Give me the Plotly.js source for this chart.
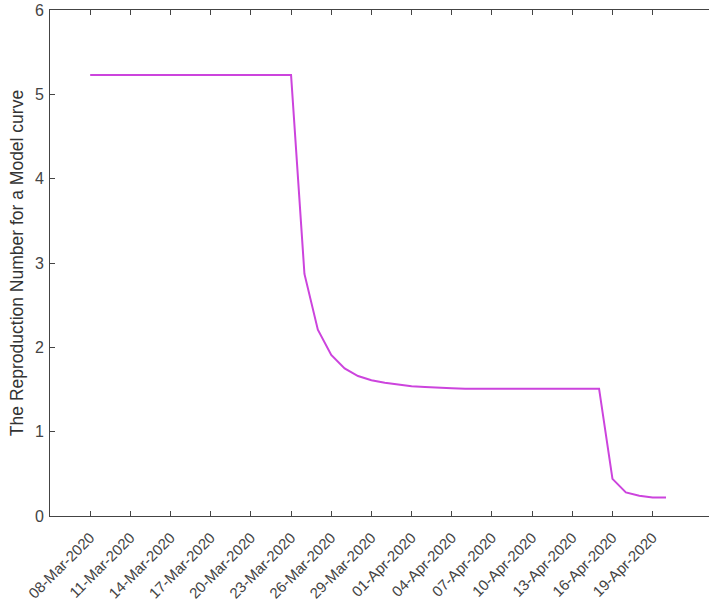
<!DOCTYPE html>
<html>
<head>
<meta charset="utf-8">
<script src="https://cdn.plot.ly/plotly-3.0.1.min.js"></script>
<style>html,body{margin:0;padding:0;background:#fff;}</style>
</head>
<body>
<div id="chart" style="width:709px;height:609px;"></div>
<script>
const dates = [
  '2020-03-08','2020-03-09','2020-03-10','2020-03-11','2020-03-12','2020-03-13','2020-03-14','2020-03-15',
  '2020-03-16','2020-03-17','2020-03-18','2020-03-19','2020-03-20','2020-03-21','2020-03-22','2020-03-23',
  '2020-03-24','2020-03-25','2020-03-26','2020-03-27','2020-03-28','2020-03-29','2020-03-30','2020-03-31',
  '2020-04-01','2020-04-02','2020-04-03','2020-04-04','2020-04-05','2020-04-06','2020-04-07','2020-04-08',
  '2020-04-09','2020-04-10','2020-04-11','2020-04-12','2020-04-13','2020-04-14','2020-04-15','2020-04-16',
  '2020-04-17','2020-04-18','2020-04-19','2020-04-20'
];
const reproNumber = [
  5.23,5.23,5.23,5.23,5.23,5.23,5.23,5.23,
  5.23,5.23,5.23,5.23,5.23,5.23,5.23,5.23,
  2.87,2.21,1.91,1.75,1.66,1.61,1.58,1.56,
  1.54,1.53,1.52,1.515,1.51,1.51,1.51,1.51,
  1.51,1.51,1.51,1.51,1.51,1.51,1.51,0.44,
  0.28,0.24,0.22,0.22
];
const tickDates = ['2020-03-08','2020-03-11','2020-03-14','2020-03-17','2020-03-20','2020-03-23','2020-03-26',
  '2020-03-29','2020-04-01','2020-04-04','2020-04-07','2020-04-10','2020-04-13','2020-04-16','2020-04-19'];
const tickLabels = ['08-Mar-2020','11-Mar-2020','14-Mar-2020','17-Mar-2020','20-Mar-2020','23-Mar-2020','26-Mar-2020',
  '29-Mar-2020','01-Apr-2020','04-Apr-2020','07-Apr-2020','10-Apr-2020','13-Apr-2020','16-Apr-2020','19-Apr-2020'];
const yTicks = [0,1,2,3,4,5,6];

const axisColor = '#444444';
const fontFam = 'Liberation Sans, Arial, sans-serif';

Plotly.newPlot('chart', [{
  x: dates,
  y: reproNumber,
  type: 'scatter',
  mode: 'lines',
  line: {color: '#cc44dd', width: 2},
  hoverinfo: 'skip'
}], {
  width: 709,
  height: 609,
  margin: {l: 50, r: 0, t: 10, b: 93},
  paper_bgcolor: '#ffffff',
  plot_bgcolor: '#ffffff',
  showlegend: false,
  font: {family: fontFam, color: axisColor},
  xaxis: {
    type: 'date',
    range: ['2020-03-05', '2020-04-23 05:00'],
    tickmode: 'array',
    tickvals: tickDates,
    ticktext: tickLabels,
    tickangle: -45,
    tickfont: {size: 15, color: axisColor, family: fontFam},
    ticklabelstandoff: 6,
    ticks: 'inside',
    ticklen: 5,
    tickcolor: axisColor,
    showline: true,
    linecolor: axisColor,
    linewidth: 1,
    mirror: 'ticks',
    showgrid: false,
    zeroline: false,
    automargin: false
  },
  yaxis: {
    range: [0, 6],
    tickmode: 'array',
    tickvals: yTicks,
    ticktext: yTicks.map(String),
    tickfont: {size: 16, color: axisColor, family: fontFam},
    ticklabelstandoff: 2,
    ticks: 'inside',
    ticklen: 5,
    tickcolor: axisColor,
    showline: true,
    linecolor: axisColor,
    linewidth: 1,
    showgrid: false,
    zeroline: false,
    automargin: false,
    title: {text: 'The Reproduction Number for a Model curve', font: {size: 17.5, color: '#333333', family: fontFam}, standoff: 6}
  }
}, {displayModeBar: false, staticPlot: true});
</script>
</body>
</html>
